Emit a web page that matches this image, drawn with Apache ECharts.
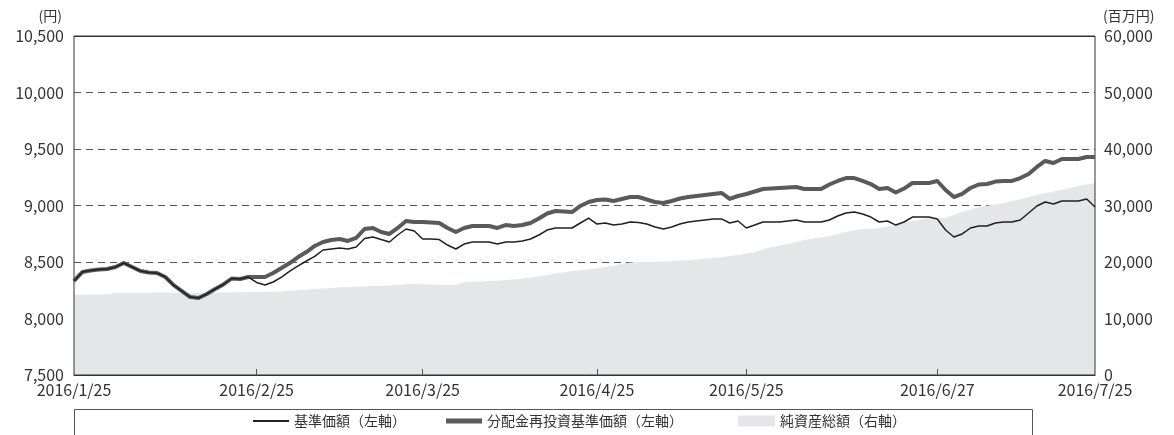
<!DOCTYPE html>
<html>
<head>
<meta charset="utf-8">
<script src="https://cdn.jsdelivr.net/npm/echarts@6/dist/echarts.min.js"></script>
<style>
html, body { margin: 0; padding: 0; background: #fff; }
#chart { width: 1174px; height: 435px; }
</style>
</head>
<body>
<div id="chart"></div>
<script>
// 営業日
var dates = [
    '2016/1/25','2016/1/26','2016/1/27','2016/1/28','2016/1/29',
    '2016/2/1','2016/2/2','2016/2/3','2016/2/4','2016/2/5',
    '2016/2/8','2016/2/9','2016/2/10','2016/2/12',
    '2016/2/15','2016/2/16','2016/2/17','2016/2/18','2016/2/19',
    '2016/2/22','2016/2/23','2016/2/24','2016/2/25','2016/2/26',
    '2016/2/29','2016/3/1','2016/3/2','2016/3/3','2016/3/4',
    '2016/3/7','2016/3/8','2016/3/9','2016/3/10','2016/3/11',
    '2016/3/14','2016/3/15','2016/3/16','2016/3/17','2016/3/18',
    '2016/3/22','2016/3/23','2016/3/24','2016/3/25',
    '2016/3/28','2016/3/29','2016/3/30','2016/3/31','2016/4/1',
    '2016/4/4','2016/4/5','2016/4/6','2016/4/7','2016/4/8',
    '2016/4/11','2016/4/12','2016/4/13','2016/4/14','2016/4/15',
    '2016/4/18','2016/4/19','2016/4/20','2016/4/21','2016/4/22',
    '2016/4/25','2016/4/26','2016/4/27','2016/4/28',
    '2016/5/2','2016/5/6',
    '2016/5/9','2016/5/10','2016/5/11','2016/5/12','2016/5/13',
    '2016/5/16','2016/5/17','2016/5/18','2016/5/19','2016/5/20',
    '2016/5/23','2016/5/24','2016/5/25','2016/5/26','2016/5/27',
    '2016/5/30','2016/5/31','2016/6/1','2016/6/2','2016/6/3',
    '2016/6/6','2016/6/7','2016/6/8','2016/6/9','2016/6/10',
    '2016/6/13','2016/6/14','2016/6/15','2016/6/16','2016/6/17',
    '2016/6/20','2016/6/21','2016/6/22','2016/6/23','2016/6/24',
    '2016/6/27','2016/6/28','2016/6/29','2016/6/30','2016/7/1',
    '2016/7/4','2016/7/5','2016/7/6','2016/7/7','2016/7/8',
    '2016/7/11','2016/7/12','2016/7/13','2016/7/14','2016/7/15',
    '2016/7/19','2016/7/20','2016/7/21','2016/7/22',
    '2016/7/25'
];

var labelDates = ['2016/1/25', '2016/2/25', '2016/3/25', '2016/4/25', '2016/5/25', '2016/6/27', '2016/7/25'];

// 基準価額（円）
var navPrice = [
    8332, 8411, 8425, 8433, 8438, 8456, 8491, 8456, 8420, 8407,
    8403, 8367, 8295, 8243, 8190, 8181, 8217, 8261, 8301, 8354,
    8350, 8367, 8319, 8296, 8323, 8367, 8420, 8465, 8509, 8549,
    8606, 8615, 8624, 8615, 8633, 8708, 8722, 8699, 8677, 8739,
    8792, 8774, 8704, 8704, 8699, 8650, 8615, 8659, 8677, 8677,
    8677, 8659, 8677, 8677, 8686, 8704, 8739, 8783, 8801, 8801,
    8801, 8845, 8889, 8836, 8845, 8827, 8836, 8854, 8850, 8836,
    8810, 8792, 8810, 8836, 8854, 8863, 8872, 8881, 8881, 8845,
    8863, 8801, 8827, 8854, 8854, 8854, 8863, 8872, 8854, 8854,
    8854, 8872, 8907, 8934, 8942, 8925, 8898, 8854, 8863, 8827,
    8854, 8898, 8898, 8898, 8881, 8783, 8721, 8748, 8801, 8819,
    8819, 8845, 8854, 8854, 8872, 8934, 8996, 9031, 9013, 9040,
    9040, 9040, 9058, 8987
];

// 分配金再投資基準価額（円）
var reinvestPrice = [
    8332, 8411, 8425, 8433, 8438, 8456, 8491, 8456, 8420, 8407,
    8403, 8367, 8295, 8243, 8190, 8181, 8217, 8261, 8301, 8354,
    8350, 8367, 8367, 8367, 8403, 8447, 8491, 8544, 8588, 8642,
    8677, 8695, 8704, 8686, 8713, 8792, 8801, 8766, 8748, 8801,
    8863, 8854, 8854, 8850, 8845, 8801, 8766, 8801, 8819, 8819,
    8819, 8801, 8827, 8819, 8827, 8845, 8885, 8929, 8951, 8947,
    8942, 8996, 9031, 9049, 9053, 9040, 9058, 9075, 9075, 9053,
    9031, 9022, 9040, 9062, 9075, 9084, 9093, 9102, 9111, 9058,
    9084, 9102, 9124, 9146, 9150, 9155, 9159, 9164, 9146, 9146,
    9146, 9186, 9217, 9243, 9243, 9217, 9190, 9146, 9155, 9115,
    9150, 9199, 9199, 9199, 9217, 9137, 9075, 9102, 9155, 9186,
    9190, 9212, 9217, 9217, 9243, 9279, 9341, 9394, 9376, 9412,
    9412, 9412, 9429, 9429
];

// 純資産総額（百万円）
var netAssets = [
    14200, 14200, 14250, 14250, 14300, 14500, 14550, 14550, 14550, 14550,
    14600, 14600, 14550, 14500, 14500, 14500, 14550, 14600, 14600, 14650,
    14650, 14700, 14700, 14700, 14750, 14800, 14900, 15000, 15100, 15200,
    15300, 15400, 15550, 15550, 15600, 15650, 15750, 15800, 15850, 15950,
    16100, 16100, 16050, 16000, 15950, 15950, 15950, 16450, 16500, 16550,
    16650, 16700, 16800, 16900, 17050, 17250, 17500, 17700, 17950, 18150,
    18400, 18550, 18700, 18900, 19100, 19300, 19700, 19900, 20000, 20050,
    20050, 20100, 20150, 20250, 20350, 20450, 20600, 20700, 20850, 21050,
    21250, 21500, 21770, 22200, 22650, 22900, 23190, 23550, 23900, 24150,
    24400, 24600, 24950, 25300, 25650, 25800, 25900, 26020, 26300, 26550,
    26900, 27250, 27500, 27780, 27790, 27800, 28300, 28900, 29300, 29700,
    29950, 30200, 30450, 30800, 31100, 31450, 31850, 32200, 32500, 32800,
    33100, 33400, 33700, 34000
];

var fontFamily = '"Noto Sans CJK JP", "Noto Sans", sans-serif';

function comma(v) {
    return String(v).replace(/\B(?=(\d{3})+(?!\d))/g, ',');
}

var chart = echarts.init(document.getElementById('chart'), null, { renderer: 'canvas' });

var legendText = { color: '#333', fontSize: 14, fontFamily: fontFamily };

var option = {
    animation: false,
    textStyle: { fontFamily: fontFamily },
    grid: {
        left: 74,
        right: 79,
        top: 36,
        bottom: 60,
        show: true,
        z: 3,
        borderColor: '#333',
        borderWidth: 1,
        backgroundColor: 'rgba(0,0,0,0)'
    },
    legend: [
        {
            left: 253, top: 414, padding: 0,
            itemWidth: 36, itemHeight: 2, icon: 'rect',
            selectedMode: false,
            textStyle: legendText,
            data: ['基準価額（左軸）']
        },
        {
            left: 446, top: 414, padding: 0,
            itemWidth: 36, itemHeight: 5, icon: 'rect',
            selectedMode: false,
            textStyle: legendText,
            data: ['分配金再投資基準価額（左軸）']
        },
        {
            left: 738, top: 414, padding: 0,
            itemWidth: 37, itemHeight: 11, icon: 'rect',
            selectedMode: false,
            textStyle: legendText,
            data: ['純資産総額（右軸）']
        }
    ],
    graphic: [
        {
            // 凡例の枠
            type: 'rect',
            silent: true,
            shape: { x: 74.5, y: 409.5, width: 958, height: 40 },
            style: { fill: 'none', stroke: '#555', lineWidth: 1 }
        },
        {
            // 上端の実線
            type: 'line',
            silent: true,
            z: 10,
            shape: { x1: 74, y1: 36.5, x2: 1095, y2: 36.5 },
            style: { stroke: '#333', lineWidth: 1 }
        }
    ],
    xAxis: {
        type: 'category',
        data: dates,
        boundaryGap: false,
        z: 5,
        axisLine: { lineStyle: { color: '#333', width: 1 } },
        axisTick: {
            inside: true,
            length: 6,
            interval: function (i, v) {
                return labelDates.indexOf(v) > 0 && i < dates.length - 1;
            },
            lineStyle: { color: '#555' }
        },
        axisLabel: {
            interval: function (i, v) {
                return labelDates.indexOf(v) >= 0;
            },
            color: '#333',
            fontSize: 16,
            margin: 7,
            fontFamily: fontFamily
        },
        splitLine: { show: false }
    },
    yAxis: [
        {
            type: 'value',
            position: 'left',
            min: 7500,
            max: 10500,
            interval: 500,
            name: '(円)',
            nameLocation: 'end',
            nameGap: 13,
            nameTextStyle: { color: '#333', fontSize: 14, align: 'right', padding: [0, 12, 0, 0], fontFamily: fontFamily },
            axisLine: { show: false },
            axisTick: { show: false },
            axisLabel: { color: '#333', fontSize: 16, margin: 10, formatter: comma, fontFamily: fontFamily },
            splitLine: { lineStyle: { color: '#555', width: 1, type: [7, 5] } }
        },
        {
            type: 'value',
            position: 'right',
            min: 0,
            max: 60000,
            interval: 10000,
            name: '(百万円)',
            nameLocation: 'end',
            nameGap: 13,
            nameTextStyle: { color: '#333', fontSize: 14, align: 'left', padding: [0, 0, 0, 8], fontFamily: fontFamily },
            axisLine: { show: false },
            axisTick: { show: false },
            axisLabel: { color: '#333', fontSize: 16, margin: 9, formatter: comma, fontFamily: fontFamily },
            splitLine: { show: false }
        }
    ],
    series: [
        {
            name: '純資産総額（右軸）',
            type: 'line',
            yAxisIndex: 1,
            data: netAssets,
            symbol: 'none',
            z: 1,
            itemStyle: { color: '#e5e6e8' },
            lineStyle: { width: 0, color: '#e5e6e8' },
            areaStyle: { color: '#e5e6e8', opacity: 1 }
        },
        {
            name: '分配金再投資基準価額（左軸）',
            type: 'line',
            yAxisIndex: 0,
            data: reinvestPrice,
            symbol: 'none',
            z: 4,
            itemStyle: { color: '#5a5a5a' },
            lineStyle: { width: 4, color: '#5a5a5a', join: 'round' }
        },
        {
            name: '基準価額（左軸）',
            type: 'line',
            yAxisIndex: 0,
            data: navPrice,
            symbol: 'none',
            z: 5,
            itemStyle: { color: '#231f20' },
            lineStyle: { width: 1.5, color: '#231f20' }
        }
    ]
};

chart.setOption(option);
</script>
</body>
</html>
